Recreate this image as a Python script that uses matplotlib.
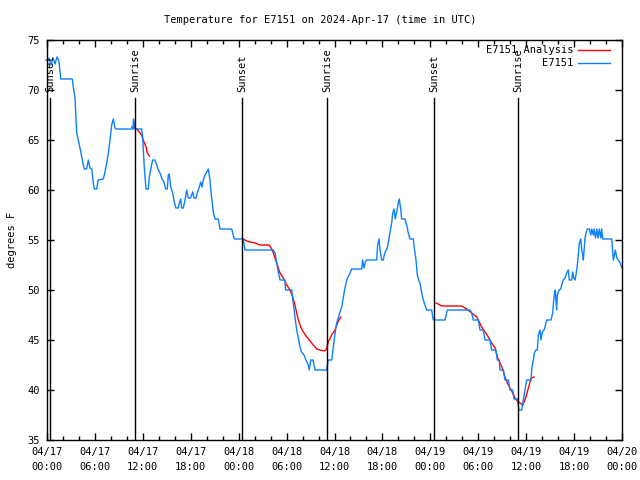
import matplotlib
matplotlib.use("Agg")
import matplotlib.pyplot as plt
import matplotlib.dates as mdates
import numpy as np
import pandas as pd

base = pd.Timestamp("2024-04-17 00:00")

# observed temperature (hours since 04/17 00:00 UTC, degrees F)
obs_hours = [0.0, 0.25, 0.5, 0.75, 1.0, 1.25, 1.5, 1.72, 3.17, 3.29, 3.51, 3.63, 3.72, 3.92, 4.13,
             4.35, 4.55, 4.67, 4.97, 5.17, 5.38, 5.60, 5.80, 5.92, 6.22, 6.42, 7.05, 7.26, 7.48,
             7.68, 7.89, 8.10, 8.30, 8.51, 8.64, 10.77, 10.83, 10.89, 10.95, 11.02, 11.86, 11.98,
             12.15, 12.27, 12.40, 12.69, 12.81, 13.02, 13.23, 13.52, 13.74, 13.94, 14.15, 14.36,
             14.65, 14.86, 15.06, 15.19, 15.31, 15.49, 15.74, 15.94, 16.15, 16.44, 16.57, 16.74,
             16.86, 17.07, 17.28, 17.49, 17.69, 17.99, 18.24, 18.41, 18.66, 18.82, 19.07, 19.25,
             19.41, 19.57, 19.78, 20.00, 20.20, 20.41, 20.54, 20.70, 20.82, 21.04, 21.45, 21.66,
             23.13, 23.45, 24.58, 24.79, 28.34, 28.55, 28.76, 28.96, 29.18, 29.80, 29.87, 30.64,
             30.84, 31.05, 31.27, 31.47, 31.68, 31.89, 32.18, 32.43, 32.72, 32.84, 33.02, 33.31,
             33.56, 35.02, 35.22, 35.65, 35.85, 36.06, 36.27, 36.47, 36.69, 36.90, 37.10, 37.31,
             37.53, 37.94, 38.15, 39.41, 39.53, 39.69, 39.86, 40.03, 41.28, 41.40, 41.57, 41.70,
             41.91, 42.11, 42.24, 42.45, 42.61, 42.74, 42.95, 43.16, 43.29, 43.45, 43.61, 43.79,
             43.99, 44.11, 44.29, 44.41, 44.83, 45.04, 45.24, 45.45, 45.87, 45.99, 46.21, 46.37,
             46.54, 46.71, 46.92, 47.12, 47.33, 47.54, 48.17, 48.37, 49.84, 50.12, 52.97, 53.18,
             53.38, 54.01, 54.22, 54.63, 54.85, 55.47, 55.68, 56.22, 56.39, 56.64, 56.72, 57.14,
             57.35, 57.77, 57.98, 58.31, 58.48, 58.89, 59.10, 59.44, 59.64, 59.85, 60.07, 60.61,
             60.73, 60.90, 61.02, 61.23, 61.40, 61.52, 61.73, 61.86, 62.02, 62.23, 62.36, 62.57,
             63.11, 63.32, 63.40, 63.52, 63.65, 63.82, 63.90, 64.11, 64.32, 64.45, 64.65, 64.86,
             65.07, 65.27, 65.40, 65.70, 65.82, 65.96, 66.12, 66.24, 66.41, 66.53, 66.66, 66.83,
             66.96, 67.08, 67.16, 67.25, 67.37, 67.50, 67.66, 67.91, 68.09, 68.21, 68.41, 68.50,
             68.69, 68.84, 69.00, 69.16, 69.34, 69.46, 69.59, 70.71, 70.84, 70.92, 71.05, 71.17,
             71.35, 71.55, 71.77, 72.0]
obs_temp = [72.8, 73.2, 72.5, 73.2, 72.6, 73.3, 72.9, 71.1, 71.1, 70.3, 69.2, 67.2, 65.7, 65.0, 64.2,
            63.3, 62.5, 62.1, 62.1, 63.0, 62.2, 62.1, 60.7, 60.1, 60.1, 61.0, 61.1, 61.8, 62.7,
            63.7, 65.0, 66.5, 67.1, 66.2, 66.1, 66.1, 67.1, 66.2, 66.8, 66.1, 66.1, 65.3,
            62.7, 61.3, 60.1, 60.1, 61.3, 62.2, 63.0, 63.0, 62.5, 62.0, 61.7, 61.2,
            60.8, 60.1, 60.1, 61.5, 61.6, 60.3, 59.7, 58.8, 58.2, 58.2, 58.7, 59.1,
            58.2, 58.2, 59.0, 60.0, 59.2, 59.2, 59.8, 59.2, 59.2, 59.7, 60.3, 60.8,
            60.3, 61.0, 61.5, 61.8, 62.1, 61.0, 59.7, 58.7, 57.8, 57.1, 57.1, 56.1,
            56.1, 55.1, 55.1, 54.0, 54.0, 53.7, 52.7, 51.8, 51.0, 51.0, 50.0, 50.0,
            48.7, 47.3, 46.0, 45.2, 44.3, 43.8, 43.5, 43.0, 42.5, 42.0, 43.0, 43.0,
            42.0, 42.0, 43.0, 43.0, 44.3, 45.6, 46.7, 47.2, 47.8, 48.3, 49.2, 50.2,
            51.0, 51.7, 52.1, 52.1, 53.0, 52.2, 52.8, 53.0, 53.0, 54.5, 55.1, 54.0,
            53.0, 53.0, 53.5, 54.0, 54.2, 54.8, 55.8, 56.7, 57.7, 58.1, 57.1, 57.8,
            58.7, 59.1, 58.1, 57.1, 57.1, 56.5, 55.7, 55.1, 55.1, 54.2, 53.0, 51.5,
            51.0, 50.7, 49.7, 49.0, 48.5, 48.0, 48.0, 47.0, 47.0, 48.0, 48.0, 47.7,
            47.0, 47.0, 46.0, 46.0, 45.0, 45.0, 44.0, 44.0, 43.0, 43.0, 42.0, 42.0,
            41.0, 41.0, 40.0, 40.0, 39.1, 39.1, 38.0, 38.0, 39.0, 40.0, 41.0, 41.0,
            42.3, 43.0, 43.7, 44.0, 44.0, 45.5, 46.0, 45.0, 45.8, 46.0, 46.3, 47.0,
            47.0, 47.7, 48.5, 49.5, 50.0, 48.0, 49.5, 50.0, 50.1, 50.5, 51.0, 51.2,
            51.7, 52.0, 51.0, 51.0, 51.8, 51.2, 51.0, 51.5, 52.5, 53.5, 54.7, 55.1,
            54.0, 53.5, 53.0, 54.0, 55.2, 55.7, 56.1, 56.1, 55.5, 56.1, 55.5, 56.1,
            55.2, 56.1, 55.2, 56.1, 55.2, 56.1, 55.1, 55.1, 53.8, 53.0, 53.5, 54.0,
            53.2, 53.0, 52.7, 52.2]

# analysis segments
ana1_hours = [10.61, 11.23, 11.65, 11.83, 12.15, 12.40, 12.56, 12.81]
ana1_temp = [66.3, 66.1, 65.7, 65.5, 64.8, 64.3, 63.7, 63.4]
ana2_hours = [24.58, 25.01, 25.42, 26.05, 26.67, 27.84, 28.14, 28.34, 28.55, 28.76, 28.96, 29.18,
              29.59, 30.01, 30.43, 30.77, 31.05, 31.27, 31.47, 31.77, 32.10, 32.52, 32.93, 33.35,
              33.77, 34.19, 34.69, 34.94, 35.22, 35.65, 36.06, 36.53, 36.81]
ana2_temp = [55.1, 54.9, 54.8, 54.7, 54.5, 54.5, 54.1, 53.7, 53.2, 52.7, 52.2, 51.7,
             51.2, 50.5, 50.0, 49.3, 48.5, 47.7, 47.0, 46.3, 45.8, 45.3, 44.9, 44.5,
             44.1, 44.0, 43.9, 44.0, 44.8, 45.5, 46.0, 47.0, 47.3]
ana3_hours = [48.71, 49.0, 49.42, 51.93, 52.13, 52.55, 53.18, 53.81, 54.13, 54.43, 54.85, 55.26,
              55.68, 56.10, 56.39, 56.72, 57.06, 57.35, 57.64, 57.98, 58.31, 58.60, 58.89, 59.23,
              59.57, 59.85, 60.14, 60.48, 60.69, 60.98]
ana3_temp = [48.7, 48.6, 48.4, 48.4, 48.3, 48.1, 47.7, 47.3, 46.8, 46.3, 45.8, 45.3,
             44.7, 44.2, 43.3, 42.7, 42.1, 41.3, 40.7, 40.2, 39.7, 39.2, 38.9, 38.7,
             38.5, 39.0, 39.8, 40.8, 41.2, 41.3]

sun_hours = [0.38, 11.02, 24.42, 35.06, 48.46, 58.98]
sun_labels = ["Sunset", "Sunrise", "Sunset", "Sunrise", "Sunset", "Sunrise"]

def to_time(hours):
    return base + pd.to_timedelta(np.array(hours), unit="h")

font = "DejaVu Sans Mono"
fs = 7.5
plt.rcParams['font.family'] = font
plt.rcParams['font.size'] = fs

fig = plt.figure(figsize=(6.4, 4.8), dpi=100)
ax = fig.add_axes([47 / 640, 40 / 480, 575 / 640, 400 / 480])

red = "#ff0000"
blue = "#0a80ff"
for h, t in [(ana1_hours, ana1_temp), (ana2_hours, ana2_temp), (ana3_hours, ana3_temp)]:
    ax.plot(to_time(h), t, color=red, lw=1.0)
ax.plot(to_time(obs_hours), obs_temp, color=blue, lw=1.0)

for h, lab in zip(sun_hours, sun_labels):
    t = to_time([h])[0]
    ax.plot([t, t], [35, 69.2], color="black", lw=1.0)
    ax.text(t, 69.8, lab, rotation=90, ha="center", va="bottom", fontsize=fs)

ax.set_xlim(base, base + pd.Timedelta(hours=72))
ax.set_ylim(35, 75)
ax.set_yticks(np.arange(35, 76, 5))
ax.xaxis.set_major_locator(mdates.HourLocator(byhour=range(0, 24, 6)))
ax.xaxis.set_minor_locator(mdates.HourLocator(byhour=range(0, 24, 2)))
ax.xaxis.set_major_formatter(mdates.DateFormatter("%m/%d\n%H:%M"))
for lab in ax.get_xticklabels():
    lab.set_linespacing(1.6)
ax.tick_params(axis="both", which="major", direction="in", length=5, width=1,
               top=True, right=True, labelsize=fs, pad=5)
ax.tick_params(axis="x", which="minor", direction="in", length=3, width=1, top=True)
for s in ax.spines.values():
    s.set_linewidth(1.0)

fig.text(12 / 640, 0.5, "degrees F", rotation=90, ha="center", va="center", fontsize=fs)
fig.text(0.5, 1 - 20 / 480, "Temperature for E7151 on 2024-Apr-17 (time in UTC)",
         ha="center", va="center", fontsize=fs)

# legend
for i, (lab, col) in enumerate([("E7151 Analysis", red), ("E7151", blue)]):
    y = 0.975 - i * 0.0325
    ax.text(0.915, y, lab, transform=ax.transAxes, ha="right", va="center", fontsize=fs)
    ax.plot([0.924, 0.979], [y, y], transform=ax.transAxes, color=col, lw=1.0)

fig.savefig("out.png", dpi=100)
